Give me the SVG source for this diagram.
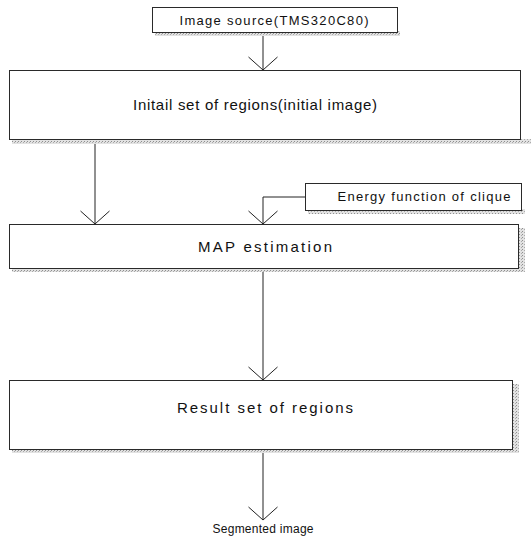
<svg xmlns="http://www.w3.org/2000/svg" width="531" height="539" viewBox="0 0 531 539">
<style>
.box{fill:#fff;stroke:#2a2a2a;stroke-width:1}
.shadow{fill:url(#dots)}
.lbl{font-family:"Liberation Sans",Arial,sans-serif;fill:#111;text-anchor:middle}
.conn{fill:none;stroke:#222;stroke-width:1}
</style>
<defs>
<pattern id="dots" width="3" height="3" patternUnits="userSpaceOnUse">
<rect width="3" height="3" fill="#e2e2e2"/>
<rect width="1" height="1" fill="#8f8f8f"/>
<rect x="2" y="1" width="1" height="1" fill="#ababab"/>
</pattern>
<marker id="vh" viewBox="-15 -16 17 32" markerWidth="17" markerHeight="32" refX="0" refY="0" orient="auto" markerUnits="userSpaceOnUse">
<path d="M-13,-14.5 L0,0 L-13,14.5" fill="none" stroke="#222" stroke-width="1"/>
</marker>
</defs>

<g id="connectors">
<path class="conn" d="M263,36 L263,70" marker-end="url(#vh)"/>
<path class="conn" d="M95,144 L95,224" marker-end="url(#vh)"/>
<path class="conn" d="M305,197 L263,197 L263,224" marker-end="url(#vh)"/>
<path class="conn" d="M263,272 L263,380" marker-end="url(#vh)"/>
<path class="conn" d="M263,453 L263,520" marker-end="url(#vh)"/>
</g>

<g id="image-source">
<rect class="shadow" x="155" y="31" width="245" height="5"/>
<rect class="box" x="152.5" y="7.5" width="245" height="25"/>
<text class="lbl" x="274" y="25" font-size="13" textLength="189" lengthAdjust="spacing">Image source(TMS320C80)</text>
</g>

<g id="initial-set">
<rect class="shadow" x="12" y="139" width="519" height="5"/>
<rect class="box" x="9.5" y="70.5" width="511" height="69"/>
<text class="lbl" x="255" y="110" font-size="15" textLength="244" lengthAdjust="spacing">Initail set of regions(initial image)</text>
</g>

<g id="energy-function">
<rect class="shadow" x="308" y="209" width="217" height="5"/>
<rect class="box" x="305.5" y="183.5" width="216" height="27"/>
<text class="lbl" x="424" y="201" font-size="13" textLength="173" lengthAdjust="spacing">Energy function of clique</text>
</g>

<g id="map-estimation">
<rect class="shadow" x="519" y="228" width="6" height="44"/>
<rect class="shadow" x="12" y="268" width="513" height="4"/>
<rect class="box" x="9.5" y="224.5" width="509" height="44"/>
<text class="lbl" x="265" y="252" font-size="15" textLength="134" lengthAdjust="spacing">MAP estimation</text>
</g>

<g id="result-set">
<rect class="shadow" x="513" y="384" width="6" height="69"/>
<rect class="shadow" x="12" y="449" width="507" height="4"/>
<rect class="box" x="9.5" y="380.5" width="503" height="69"/>
<text class="lbl" x="265" y="413" font-size="15" textLength="176" lengthAdjust="spacing">Result set of regions</text>
</g>

<g id="segmented-image">
<text class="lbl" x="263" y="533" font-size="12" textLength="101" lengthAdjust="spacing">Segmented image</text>
</g>
</svg>
